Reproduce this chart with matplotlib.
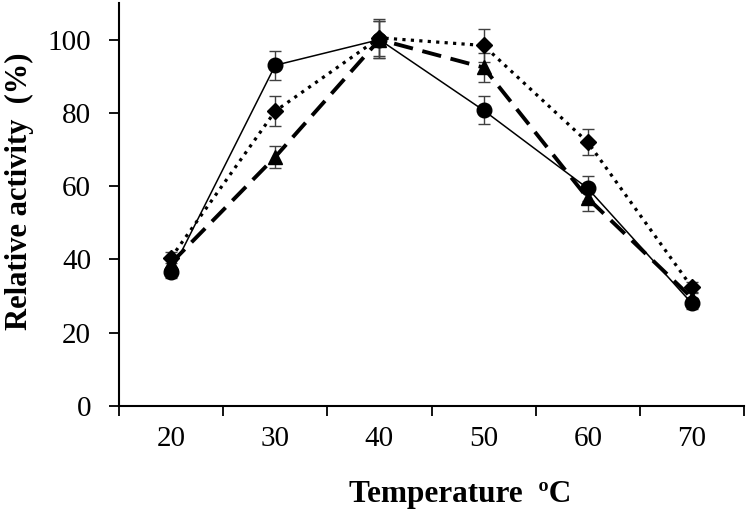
import matplotlib
matplotlib.use("Agg")
import matplotlib.pyplot as plt
import numpy as np

temps = ["20", "30", "40", "50", "60", "70"]
circle_vals = [36.5, 93, 100, 80.7, 59.4, 28]
circle_err = [1.5, 4, 5, 3.8, 3.5, 1.5]
diamond_vals = [40.5, 80.5, 100.5, 98.4, 72, 32.4]
diamond_err = [1.5, 4, 5, 4.6, 3.5, 1.5]
triangle_vals = [39, 68, 100, 92.4, 56.7, 29.5]
triangle_err = [1.5, 3, 5, 4, 3.5, 1.5]

plt.rcParams['font.family'] = ['Liberation Serif', 'DejaVu Serif']

fig = plt.figure(figsize=(7.5, 5.17), dpi=100)
ax = fig.add_axes([0.1587, 0.2147, 0.8333, 0.7795])

x = np.arange(len(temps))
ecol = '#404040'
common = dict(ecolor=ecol, elinewidth=1.0, capsize=4, capthick=1.0, zorder=3,
              color='black', mec='black', mfc='black')
ax.errorbar(x, circle_vals, yerr=circle_err, lw=1.1, linestyle='-',
            marker='o', ms=10.5, **common)
ax.errorbar(x, diamond_vals, yerr=diamond_err, lw=2.3, linestyle=':',
            marker='D', ms=8, **common)
ax.errorbar(x, triangle_vals, yerr=triangle_err, lw=2.8, linestyle=(0, (5, 2.5)),
            marker='^', ms=10.5, **common)

ax.set_xlim(-0.5, 5.5)
ax.set_ylim(0, 110)
ax.set_yticks([0, 20, 40, 60, 80, 100])
ax.set_xticks(np.arange(-0.5, 6.0, 1.0))
ax.set_xticklabels([])
ax.set_xticks(x, minor=True)
ax.set_xticklabels(temps, minor=True)
ax.tick_params(axis='x', which='major', length=7, width=1.3, direction='out')
ax.tick_params(axis='x', which='minor', length=0, pad=14.5, labelsize=21)
ax.tick_params(axis='y', length=7, width=1.3, direction='out', labelsize=21, pad=13)

for s in ['top', 'right']:
    ax.spines[s].set_visible(False)
for s in ['left', 'bottom']:
    ax.spines[s].set_linewidth(1.5)

ax.set_xlabel('Temperature  ºC', fontsize=22.5, fontweight='bold')
ax.set_ylabel('Relative activity  (%)', fontsize=22, fontweight='bold')
ax.xaxis.set_label_coords(0.545, -0.183)
ax.yaxis.set_label_coords(-0.136, 0.532)

fig.savefig('out.png', dpi=100)
